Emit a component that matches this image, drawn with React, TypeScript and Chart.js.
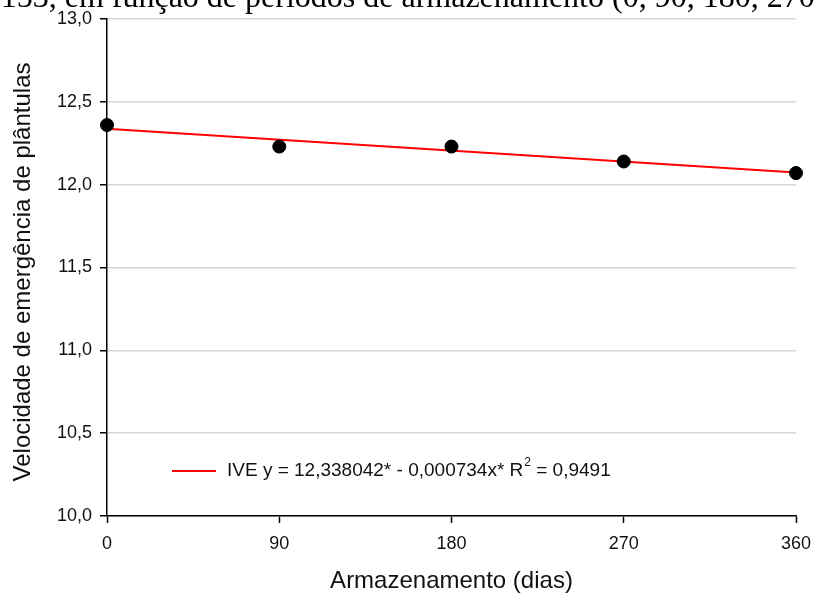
import React, { useEffect, useRef } from "react";
import { Chart, registerables } from "chart.js";

Chart.register(...registerables);

const days = [0, 90, 180, 270, 360];
const ive = [12.36, 12.23, 12.23, 12.14, 12.07];
const trendDays = [0, 360];
const trendIve = [12.338, 12.074];
const xTicks = [0, 90, 180, 270, 360];
const yTicks = [10.0, 10.5, 11.0, 11.5, 12.0, 12.5, 13.0];

const captionLead = "153, em função de períodos de armazenamento ";
const captionTail = "(0, 90, 180, 270, 360 dias)";
const yTitle = "Velocidade de emergência de plântulas";
const xTitle = "Armazenamento (dias)";
const legendMain = "IVE y = 12,338042* - 0,000734x* R";
const legendSup = "2";
const legendEnd = " = 0,9491";

const SANS = "'Liberation Sans', Arial, sans-serif";
const SERIF = "'Liberation Serif', 'Times New Roman', serif";
const TXT = "#111111";

const overlay = {
  id: "overlay",
  afterDraw(chart: any) {
    const ctx = chart.ctx as CanvasRenderingContext2D;
    const area = chart.chartArea;
    ctx.save();
    // cropped caption at the very top
    ctx.fillStyle = "#000";
    ctx.font = `32px ${SERIF}`;
    ctx.textAlign = "left";
    ctx.textBaseline = "alphabetic";
    const leadW = ctx.measureText(captionLead).width;
    ctx.fillText(captionLead + captionTail, 612 - leadW, 7);

    // y title
    ctx.fillStyle = TXT;
    ctx.font = `24px ${SANS}`;
    ctx.textAlign = "center";
    ctx.textBaseline = "middle";
    ctx.save();
    ctx.translate(23, 272);
    ctx.rotate(-Math.PI / 2);
    ctx.fillText(yTitle, 0, 0);
    ctx.restore();

    // x title
    ctx.fillText(xTitle, (area.left + area.right) / 2, 581);

    // legend inside plot
    const ly = 471;
    ctx.strokeStyle = "#ff0000";
    ctx.lineWidth = 2;
    ctx.beginPath();
    ctx.moveTo(172, ly);
    ctx.lineTo(216, ly);
    ctx.stroke();
    ctx.textAlign = "left";
    ctx.font = `19px ${SANS}`;
    let x = 227;
    ctx.fillText(legendMain, x, ly);
    x += ctx.measureText(legendMain).width;
    ctx.font = `12px ${SANS}`;
    ctx.fillText(legendSup, x + 1, ly - 8);
    x += ctx.measureText(legendSup).width + 1;
    ctx.font = `19px ${SANS}`;
    ctx.fillText(legendEnd, x, ly);
    ctx.restore();
  },
};

export default function App() {
  const ref = useRef<HTMLCanvasElement | null>(null);
  useEffect(() => {
    if (!ref.current) return;
    const chart = new Chart(ref.current, {
      type: "scatter",
      data: {
        datasets: [
          {
            type: "line",
            label: "IVE",
            data: trendDays.map((d, i) => ({ x: d, y: trendIve[i] })),
            borderColor: "#ff0000",
            borderWidth: 2,
            pointRadius: 0,
            fill: false,
            order: 2,
          } as any,
          {
            type: "scatter",
            label: "dados",
            data: days.map((d, i) => ({ x: d, y: ive[i] })),
            backgroundColor: "#000",
            borderColor: "#000",
            pointRadius: 6.5,
            order: 1,
          },
        ],
      },
      options: {
        responsive: false,
        animation: false,
        clip: false as any,
        layout: { padding: { top: 19, right: 19, left: 0, bottom: 0 } },
        plugins: {
          legend: { display: false },
          tooltip: { enabled: false },
          title: { display: false },
        },
        scales: {
          x: {
            type: "linear",
            min: 0,
            max: 360,
            afterBuildTicks: (s: any) => {
              s.ticks = xTicks.map((v) => ({ value: v }));
            },
            afterFit: (s: any) => {
              s.height = 81;
              s.paddingLeft = 0;
              s.paddingRight = 0;
            },
            ticks: {
              color: TXT,
              font: { family: SANS, size: 18 },
              padding: 10,
              maxRotation: 0,
            },
            grid: {
              drawOnChartArea: false,
              drawTicks: true,
              tickLength: 7,
              tickColor: "#000",
              tickWidth: 1.5,
            },
            border: { color: "#000", width: 1.5 },
          },
          y: {
            type: "linear",
            min: 10,
            max: 13,
            afterBuildTicks: (s: any) => {
              s.ticks = yTicks.map((v) => ({ value: v }));
            },
            afterFit: (s: any) => {
              s.width = 107;
              s.paddingTop = 0;
              s.paddingBottom = 0;
            },
            ticks: {
              color: TXT,
              font: { family: SANS, size: 18 },
              padding: 8,
              callback: (v: any) => Number(v).toFixed(1).replace(".", ","),
            },
            grid: {
              color: "#d6d6d6",
              lineWidth: 1.5,
              drawTicks: true,
              tickLength: 7,
              tickColor: "#000",
              tickWidth: 1.5,
            },
            border: { color: "#000", width: 1.5 },
          },
        },
      },
      plugins: [overlay],
    });
    return () => chart.destroy();
  }, []);
  return (
    <div style={{ position: "absolute", left: 0, top: 0, width: 815, height: 597, background: "#fff", overflow: "hidden" }}>
      <canvas ref={ref} width={815} height={597} style={{ display: "block" }} />
    </div>
  );
}
